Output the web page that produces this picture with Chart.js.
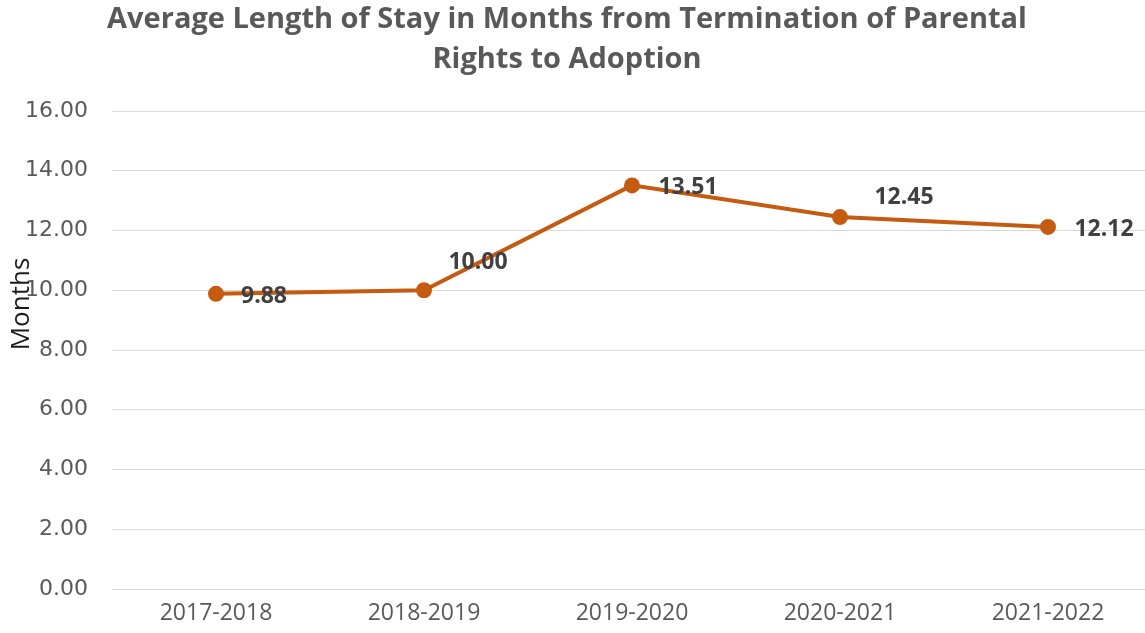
<!DOCTYPE html>
<html>
<head>
<meta charset="utf-8">
<script src="https://cdn.jsdelivr.net/npm/chart.js@4/dist/chart.umd.min.js"></script>
<style>
  html, body { margin: 0; padding: 0; overflow: hidden; background: #fff; }
  canvas { display: block; }
</style>
</head>
<body>
<canvas id="myChart" width="1152" height="633"></canvas>
<script>
"use strict";
// DATA
const years = ["2017-2018", "2018-2019", "2019-2020", "2020-2021", "2021-2022"];
const avgMonths = [9.88, 10.0, 13.51, 12.45, 12.12];
const titleLines = ["Average Length of Stay in Months from Termination of Parental", "Rights to Adoption"];
const axisTitle = "Months";

// label offsets next to each point (px), like the excel placement
const labelShift = [[48, 3], [54, -28], [56, 2], [64, -20], [56, 3]];

// title, axis title and value labels drawn by hand
const extraText = {
  id: "extraText",
  afterDatasetsDraw(chart) {
    const ctx = chart.ctx;
    const meta = chart.getDatasetMeta(0);
    ctx.save();
    ctx.textAlign = "center";
    ctx.textBaseline = "middle";

    ctx.font = "bold 29px 'Open Sans'";
    ctx.fillStyle = "#595959";
    ctx.fillText(titleLines[0], 567, 20);
    ctx.fillText(titleLines[1], 567, 60);

    ctx.font = "bold 23px 'Open Sans'";
    ctx.fillStyle = "#404040";
    meta.data.forEach((pt, i) => {
      const s = labelShift[i];
      ctx.fillText(avgMonths[i].toFixed(2), pt.x + s[0], pt.y + s[1]);
    });

    // y axis title, a bit above the middle like the original
    ctx.translate(22, 304);
    ctx.rotate(-Math.PI / 2);
    ctx.font = "26px 'Open Sans'";
    ctx.fillStyle = "#1a1a1a";
    ctx.fillText(axisTitle, 0, 0);
    ctx.restore();
  },
};

const data = {
  labels: years,
  datasets: [
    {
      label: axisTitle,
      data: avgMonths,
      borderColor: "#C55A11",
      backgroundColor: "#C55A11",
      borderWidth: 4,
      pointRadius: 6,
      pointHoverRadius: 6,
      tension: 0,
    },
  ],
};

const config = {
  type: "line",
  data: data,
  plugins: [extraText],
  options: {
    responsive: false,
    animation: false,
    layout: { autoPadding: false, padding: { top: 111, left: 0, right: 0, bottom: 0 } },
    plugins: {
      legend: { display: false },
      tooltip: { enabled: false },
      title: { display: false },
    },
    scales: {
      x: {
        offset: true,
        grid: { display: false },
        border: { display: false },
        ticks: { color: "#595959", font: { family: "'Open Sans'", size: 23 }, padding: 3 },
        afterFit: (scale) => {
          scale.height = 44;
          scale.paddingLeft = 0;
          scale.paddingRight = 0;
        },
      },
      y: {
        min: 0,
        max: 16,
        grid: { color: "#d9d9d9", lineWidth: 1, drawTicks: false },
        border: { display: false },
        ticks: {
          stepSize: 2,
          color: "#595959",
          font: { family: "'DejaVu Sans'", size: 22 },
          padding: 24,
          callback: (v) => Number(v).toFixed(2),
        },
        afterFit: (scale) => {
          scale.width = 112;
          scale.paddingTop = 0;
          scale.paddingBottom = 0;
        },
      },
    },
  },
};

new Chart(document.getElementById("myChart"), config);
</script>
</body>
</html>
